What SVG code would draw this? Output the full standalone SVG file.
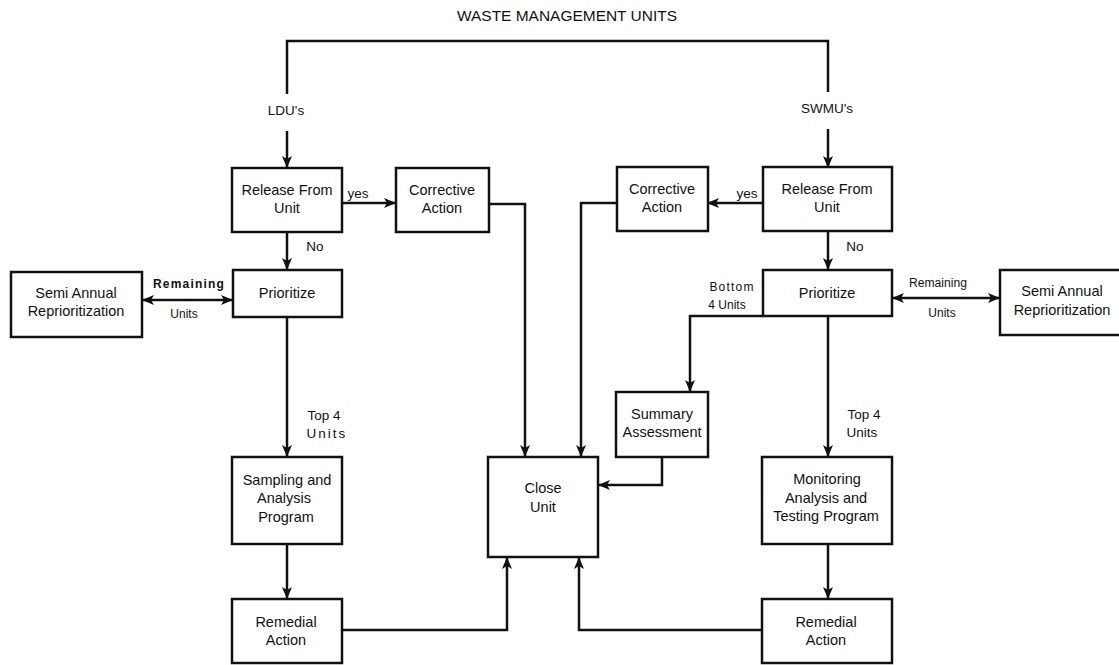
<svg xmlns="http://www.w3.org/2000/svg" width="1119" height="665" viewBox="0 0 1119 665">
<defs>
<marker id="ah" viewBox="0 0 12 10" refX="11" refY="5" markerWidth="12" markerHeight="10" markerUnits="userSpaceOnUse" orient="auto-start-reverse">
<path d="M0,0 L12,5 L0,10 L3,5 z" fill="#111"/>
</marker>
<style>
.box{fill:#fff;stroke:#111;stroke-width:2.5}
.ln{fill:none;stroke:#111;stroke-width:2.5}
.t{font-family:"Liberation Sans",Arial,Helvetica,sans-serif;font-size:14.5px;fill:#111;text-anchor:middle}
.s{font-family:"Liberation Sans",Arial,Helvetica,sans-serif;font-size:12px;fill:#111;text-anchor:middle}
.l{font-family:"Liberation Sans",Arial,Helvetica,sans-serif;font-size:13.5px;fill:#111;text-anchor:middle}
</style>
</defs>
<rect width="1119" height="665" fill="#fff"/>
<text class="t" x="567" y="21" textLength="220" lengthAdjust="spacingAndGlyphs">WASTE MANAGEMENT UNITS</text>

<g id="connectors">
<path class="ln" d="M287,94 V41 H828 V92"/>
<path class="ln" d="M287,131 V167" marker-end="url(#ah)"/>
<path class="ln" d="M828,129 V167" marker-end="url(#ah)"/>
<path class="ln" d="M342,203 H395" marker-end="url(#ah)"/>
<path class="ln" d="M763,203 H708" marker-end="url(#ah)"/>
<path class="ln" d="M287,232 V269" marker-end="url(#ah)"/>
<path class="ln" d="M828,231 V269" marker-end="url(#ah)"/>
<path class="ln" d="M143,300 H232" marker-start="url(#ah)" marker-end="url(#ah)"/>
<path class="ln" d="M893,298 H999" marker-start="url(#ah)" marker-end="url(#ah)"/>
<path class="ln" d="M287,317 V456" marker-end="url(#ah)"/>
<path class="ln" d="M828,316 V456" marker-end="url(#ah)"/>
<path class="ln" d="M763,316 H690 V391" marker-end="url(#ah)"/>
<path class="ln" d="M489,204 H525 V456" marker-end="url(#ah)"/>
<path class="ln" d="M617,203 H581 V456" marker-end="url(#ah)"/>
<path class="ln" d="M662,457 V485 H599" marker-end="url(#ah)"/>
<path class="ln" d="M287,544 V598" marker-end="url(#ah)"/>
<path class="ln" d="M828,544 V598" marker-end="url(#ah)"/>
<path class="ln" d="M342,630 H507 V558" marker-end="url(#ah)"/>
<path class="ln" d="M762,630 H579 V558" marker-end="url(#ah)"/>
</g>

<g id="labels">
<text class="l" x="286" y="115">LDU's</text>
<text class="l" x="827" y="113">SWMU's</text>
<text class="l" x="358" y="198">yes</text>
<text class="l" x="747" y="198">yes</text>
<text class="l" x="315" y="251">No</text>
<text class="l" x="855" y="251">No</text>
<text class="s" x="189" y="288" font-weight="bold" letter-spacing="1.2">Remaining</text>
<text class="s" x="184" y="318">Units</text>
<text class="s" x="938" y="287" textLength="58" lengthAdjust="spacingAndGlyphs">Remaining</text>
<text class="s" x="942" y="317">Units</text>
<text class="s" x="732" y="291" letter-spacing="1.2">Bottom</text>
<text class="s" x="727" y="309">4 Units</text>
<text class="l" x="324" y="420">Top 4</text>
<text class="l" x="327" y="438" letter-spacing="2">Units</text>
<text class="l" x="864" y="419">Top 4</text>
<text class="l" x="862" y="437">Units</text>
</g>

<g id="n-ldu-release"><rect class="box" x="232" y="168" width="110" height="64"/><text class="t" x="287" y="195">Release From</text><text class="t" x="287" y="213">Unit</text></g>
<g id="n-ldu-corrective"><rect class="box" x="396" y="168" width="93" height="64"/><text class="t" x="442" y="195">Corrective</text><text class="t" x="442" y="213">Action</text></g>
<g id="n-swmu-corrective"><rect class="box" x="617" y="167" width="91" height="64"/><text class="t" x="662" y="194">Corrective</text><text class="t" x="662" y="212">Action</text></g>
<g id="n-swmu-release"><rect class="box" x="763" y="167" width="129" height="64"/><text class="t" x="827" y="194">Release From</text><text class="t" x="827" y="212">Unit</text></g>
<g id="n-ldu-semi"><rect class="box" x="11" y="272" width="131" height="65"/><text class="t" x="76" y="298">Semi Annual</text><text class="t" x="76" y="316">Reprioritization</text></g>
<g id="n-ldu-prioritize"><rect class="box" x="233" y="270" width="109" height="47"/><text class="t" x="287" y="298">Prioritize</text></g>
<g id="n-swmu-prioritize"><rect class="box" x="763" y="270" width="129" height="46"/><text class="t" x="827" y="298">Prioritize</text></g>
<g id="n-swmu-semi"><rect class="box" x="1000" y="270" width="125" height="65"/><text class="t" x="1062" y="296">Semi Annual</text><text class="t" x="1062" y="315">Reprioritization</text></g>
<g id="n-summary"><rect class="box" x="616" y="392" width="92" height="65"/><text class="t" x="662" y="419">Summary</text><text class="t" x="662" y="437">Assessment</text></g>
<g id="n-sampling"><rect class="box" x="232" y="457" width="110" height="87"/><text class="t" x="287" y="485">Sampling and</text><text class="t" x="284" y="503">Analysis</text><text class="t" x="286" y="522">Program</text></g>
<g id="n-close"><rect class="box" x="488" y="457" width="110" height="100"/><text class="t" x="543" y="493">Close</text><text class="t" x="543" y="512">Unit</text></g>
<g id="n-monitoring"><rect class="box" x="762" y="457" width="130" height="87"/><text class="t" x="827" y="484">Monitoring</text><text class="t" x="826" y="503">Analysis and</text><text class="t" x="826" y="521">Testing Program</text></g>
<g id="n-ldu-remedial"><rect class="box" x="232" y="599" width="110" height="64"/><text class="t" x="286" y="627">Remedial</text><text class="t" x="286" y="645">Action</text></g>
<g id="n-swmu-remedial"><rect class="box" x="762" y="599" width="130" height="64"/><text class="t" x="826" y="627">Remedial</text><text class="t" x="826" y="645">Action</text></g>
</svg>
